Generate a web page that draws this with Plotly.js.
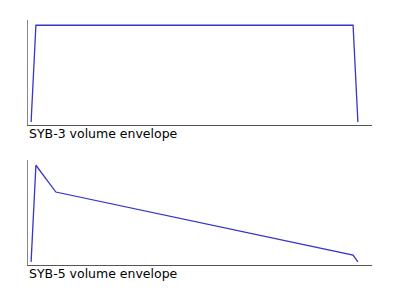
<!DOCTYPE html>
<html>
<head>
<meta charset="utf-8">
<script src="https://cdn.plot.ly/plotly-3.0.1.min.js"></script>
<style>html,body{margin:0;padding:0;background:#fff;}#chart{width:400px;height:300px;}</style>
</head>
<body>
<div id="chart"></div>
<script>
// SYB-3 envelope (time %, level)
const syb3Time = [0.9, 2.3, 94.5, 95.9];
const syb3Level = [0.03, 0.95, 0.95, 0.03];
// SYB-5 envelope
const syb5Time = [0.9, 2.3, 8.1, 94.5, 95.9];
const syb5Level = [0.03, 0.95, 0.695, 0.095, 0.03];
const titles = ["SYB-3 volume envelope", "SYB-5 volume envelope"];

const lineStyle = {color: '#3535c8', width: 1.3};
const traces = [
  {x: syb3Time, y: syb3Level, mode: 'lines', line: lineStyle, xaxis: 'x', yaxis: 'y', hoverinfo: 'skip'},
  {x: syb5Time, y: syb5Level, mode: 'lines', line: lineStyle, xaxis: 'x2', yaxis: 'y2', hoverinfo: 'skip'}
];

const xa = (anchor) => ({range: [0, 100], showgrid: false, zeroline: false, showticklabels: false, ticks: '',
  showline: true, linecolor: '#555', linewidth: 1.2, anchor: anchor, fixedrange: true});
const ya = (domain, anchor) => ({range: [0, 1], domain: domain, showgrid: false, zeroline: false, showticklabels: false, ticks: '',
  showline: true, linecolor: '#888', linewidth: 1, anchor: anchor, fixedrange: true});

const layout = {
  width: 400, height: 300,
  margin: {l: 28, r: 28, t: 20, b: 35},
  paper_bgcolor: '#fff', plot_bgcolor: '#fff',
  showlegend: false,
  xaxis: xa('y'),
  yaxis: ya([0.571, 1], 'x'),
  xaxis2: xa('y2'),
  yaxis2: ya([0, 0.4286], 'x2'),
  font: {family: 'DejaVu Sans', size: 12.5, color: '#000'},
  annotations: [
    {text: titles[0], xref: 'paper', yref: 'paper', x: 0, y: 0.571, xanchor: 'left', yanchor: 'top', showarrow: false, xshift: -1, yshift: 1, font: {size: 12.5, color: '#000'}},
    {text: titles[1], xref: 'paper', yref: 'paper', x: 0, y: 0, xanchor: 'left', yanchor: 'top', showarrow: false, xshift: -1, yshift: 1, font: {size: 12.5, color: '#000'}}
  ]
};

Plotly.newPlot('chart', traces, layout, {displayModeBar: false, staticPlot: true});
</script>
</body>
</html>
